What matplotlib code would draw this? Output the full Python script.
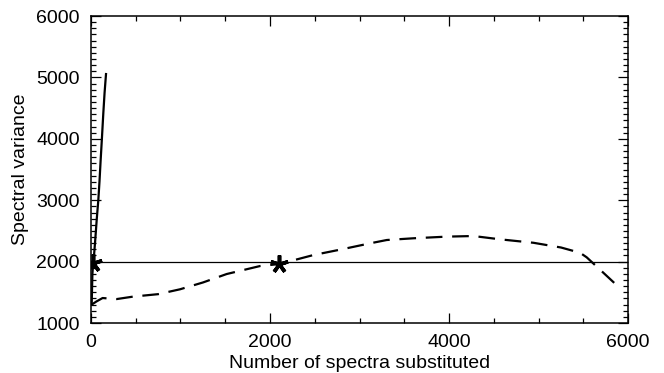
import matplotlib.pyplot as plt
from matplotlib.ticker import MultipleLocator

plt.rcParams['font.family'] = ['Liberation Sans', 'DejaVu Sans']
plt.rcParams['lines.scale_dashes'] = False

# steep curve near x=0
fast_x = [8, 12, 16, 22, 28, 45, 65, 82, 95, 108, 122, 138, 152, 168]
fast_y = [1300, 1560, 1800, 1920, 1990, 2300, 2700, 3000, 3300, 3650, 4000, 4420, 4750, 5055]

# slow (dashed) curve
slow_x = [8, 60, 130, 287, 470, 750, 994, 1250, 1516, 1888, 2104, 2484, 2800,
          3117, 3304, 3600, 3973, 4272, 4570, 4942, 5250, 5463, 5537, 5700, 5910]
slow_y = [1300, 1350, 1407, 1390, 1430, 1470, 1549, 1660, 1798, 1928, 1961, 2107, 2200,
          2298, 2352, 2380, 2407, 2417, 2363, 2307, 2230, 2144, 2070, 1850, 1565]

threshold = 1990
star_x = [28, 2104]
star_y = [1975, 1960]

fig = plt.figure(figsize=(6.64, 3.73), dpi=100)
ax = fig.add_axes([0.137, 0.134, 0.809, 0.823])

ax.plot(fast_x, fast_y, color='black', lw=1.6)
ax.plot(slow_x, slow_y, color='black', lw=1.6, dashes=(12, 7))
ax.axhline(threshold, color='black', lw=0.9)
ax.plot(star_x, star_y, linestyle='none', marker=(5, 2, 0), ms=13, mew=2.6, color='black')

ax.set_xlim(0, 6000)
ax.set_ylim(1000, 6000)
ax.xaxis.set_major_locator(MultipleLocator(2000))
ax.xaxis.set_minor_locator(MultipleLocator(500))
ax.yaxis.set_major_locator(MultipleLocator(1000))
ax.yaxis.set_minor_locator(MultipleLocator(100))
ax.tick_params(which='both', direction='in', top=True, right=True, labelsize=14, width=0.9)
ax.tick_params(which='major', length=7, pad=8)
ax.tick_params(which='minor', length=3.5)
for s in ax.spines.values():
    s.set_linewidth(1.1)

ax.set_xlabel('Number of spectra substituted', fontsize=14, labelpad=3)
ax.set_ylabel('Spectral variance', fontsize=14, labelpad=5)

fig.savefig('out.png', dpi=100)
